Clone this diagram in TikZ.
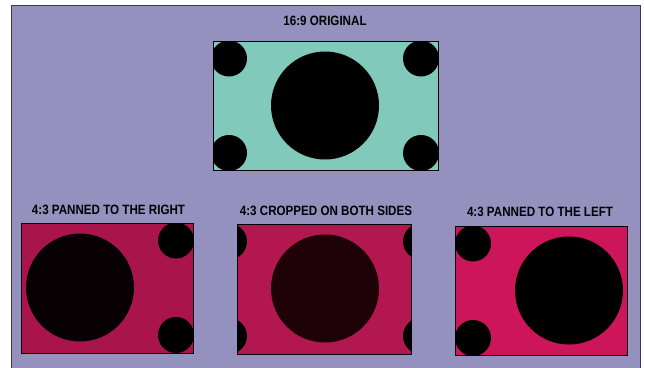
\documentclass[tikz,border=0pt]{standalone}
\usepackage{fontspec}
\newfontfamily\condfont[FakeStretch=0.86]{Liberation Sans}
\definecolor{lav}{HTML}{9491BE}
\definecolor{teal16}{HTML}{80C9BB}
\definecolor{magL}{HTML}{A9154B}
\definecolor{magM}{HTML}{B3174F}
\definecolor{magR}{HTML}{CD1559}
\definecolor{darkM}{HTML}{1E0207}
\definecolor{framegray}{HTML}{3A3A48}
\tikzset{
  caption/.style={font=\condfont\bfseries\fontsize{13.5}{14}\selectfont, text=black, inner sep=0pt, anchor=center},
  screen/.style={draw=black, line width=0.8pt}
}
% #1 left x, #2 top y, #3 width, #4 height, #5 window offset, #6 fill, #7 big circle colour
\newcommand{\tvframe}[7]{%
  \begin{scope}
    \clip (#1,#2) rectangle ++(#3,#4);
    \fill[#6] (#1,#2) rectangle ++(#3,#4);
    \fill[#7] ({#1+112-#5},{#2+64.5}) circle[radius=54];
    \fill[black] ({#1+16-#5},{#2+17.5}) circle[radius=18];
    \fill[black] ({#1+208-#5},{#2+17.5}) circle[radius=18];
    \fill[black] ({#1+16-#5},{#2+112}) circle[radius=18];
    \fill[black] ({#1+208-#5},{#2+112}) circle[radius=18];
  \end{scope}
  \draw[screen] (#1,#2) rectangle ++(#3,#4);
}
\begin{document}
\begin{tikzpicture}[x=1pt,y=-1pt]
\useasboundingbox (0,0) rectangle (645,367);
\clip (0,0) rectangle (645,367);
\fill[white] (0,0) rectangle (645,367);
\fill[lav] (11,5.5) rectangle (640,380);
\draw[framegray, line width=0.7pt] (11,380) -- (11,5.5) -- (640,5.5) -- (640,380);
% original 16:9
\tvframe{213}{41}{225}{129}{0}{teal16}{black}
\node[caption] (t1) at (325,21) {16:9 ORIGINAL};
% panned right
\tvframe{21}{223}{172}{130}{53}{magL}{black!95!magL}
\node[caption] (t2) at (108.5,210) {4:3 PANNED TO THE RIGHT};
% cropped both sides
\tvframe{237}{224}{174}{130}{24}{magM}{darkM}
\node[caption] (t3) at (326,210.5) {4:3 CROPPED ON BOTH SIDES};
% panned left
\tvframe{455}{226}{172}{129}{-2}{magR}{black}
\node[caption] (t4) at (540,211.5) {4:3 PANNED TO THE LEFT};
\end{tikzpicture}
\end{document}
